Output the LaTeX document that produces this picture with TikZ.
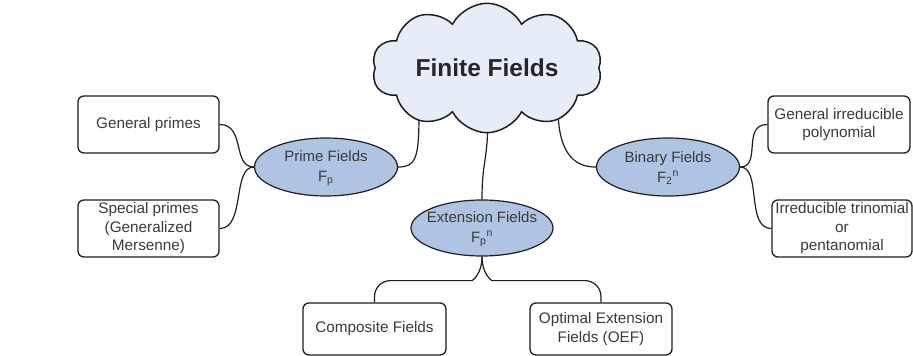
\documentclass[tikz,border=0pt]{standalone}
\usepackage{fontspec}
\setmainfont{Liberation Sans}
\usetikzlibrary{shapes.geometric,shapes.symbols,calc,backgrounds}

\definecolor{fieldblue}{HTML}{AFC3E2}
\definecolor{cloudfill}{HTML}{E6EDF8}
\definecolor{labelgrey}{HTML}{3A3A3A}
\definecolor{edgegrey}{HTML}{1E1E1E}

% F with subscript and superscript set side by side
\newcommand\fieldsym[2]{F\textsubscript{#1}\textsuperscript{#2}}

\begin{document}
\begin{tikzpicture}[x=1pt,y=-1pt,
  leafbox/.style={draw=edgegrey, line width=1.3pt, rounded corners=6pt,
    minimum height=57pt, align=center, text=labelgrey, inner sep=0pt,
    font=\fontsize{15.3}{18.5}\selectfont},
  fieldoval/.style={ellipse, draw=edgegrey, line width=1.2pt, fill=fieldblue,
    minimum width=143pt, minimum height=58pt, inner sep=0pt},
  ovaltext/.style={align=center, text=labelgrey, inner sep=0pt,
    font=\fontsize{15}{19.5}\selectfont},
  link/.style={draw=edgegrey, line width=1.2pt}]

\useasboundingbox (0,0) rectangle (913,356);

% root
\node[cloud, cloud puffs=10, cloud puff arc=125, aspect=2.1, draw=edgegrey,
  line width=1.5pt, fill=cloudfill, minimum width=230pt, minimum height=112pt,
  inner sep=0pt, text=black!85, font=\bfseries\fontsize{24.5}{24.5}\selectfont]
  (finite) at (487,68) {Finite Fields};

% field families
\node[fieldoval, label={[ovaltext, yshift=-1pt]center:{Prime Fields\\\fieldsym{p}{}}}]
  (prime) at (326,167) {};
\node[fieldoval, label={[ovaltext, yshift=-1pt]center:{Binary Fields\\\fieldsym{2}{n}}}]
  (binary) at (668,167) {};
\node[fieldoval, minimum width=142pt, minimum height=56pt,
  label={[ovaltext, yshift=-1pt]center:{Extension Fields\\\fieldsym{p}{n}}}]
  (ext) at (482,228) {};

% leaves
\node[leafbox, minimum width=141pt] (gp) at (148.5,124.5) {General primes};
\node[leafbox, minimum width=141pt] (sp) at (148.5,228.5)
  {Special primes\\(Generalized\\Mersenne)};
\node[leafbox, minimum width=142pt] (gi) at (839,124.5)
  {General irreducible\\polynomial};
\node[leafbox, minimum width=140pt] (tri) at (842,228.5)
  {Irreducible trinomial\\or\\pentanomial};
\node[leafbox, minimum width=143pt, minimum height=52pt] (comp) at (374.5,329)
  {Composite Fields};
\node[leafbox, minimum width=142pt, minimum height=52pt] (oef) at (601,329)
  {Optimal Extension\\Fields (OEF)};

% connectors
\begin{scope}[on background layer]
  \draw[link] ($(finite.center)+(-68,45)$) .. controls +(0,45) and +(18,0) .. (prime.east);
  \draw[link] ($(finite.center)+(1,45)$) .. controls +(0,50) and +(0,-40) .. (ext.north);
  \draw[link] ($(finite.center)+(71,40)$) .. controls +(0,50) and +(-18,0) .. (binary.west);

  \draw[link] (gp.east) .. controls +(26,0) and +(-22,0) .. (prime.west);
  \draw[link] (sp.east) .. controls +(26,0) and +(-22,0) .. (prime.west);
  \draw[link] (binary.east) .. controls +(22,0) and +(-26,0) .. (gi.west);
  \draw[link] (binary.east) .. controls +(22,0) and +(-26,0) .. (tri.west);

  \draw[link, rounded corners=16pt] (ext.south) .. controls +(0,18) and +(16,0) .. ++(-26,24) -| (comp.north);
  \draw[link, rounded corners=16pt] (ext.south) .. controls +(0,18) and +(-16,0) .. ++(26,24) -| (oef.north);
\end{scope}
\end{tikzpicture}
\end{document}
